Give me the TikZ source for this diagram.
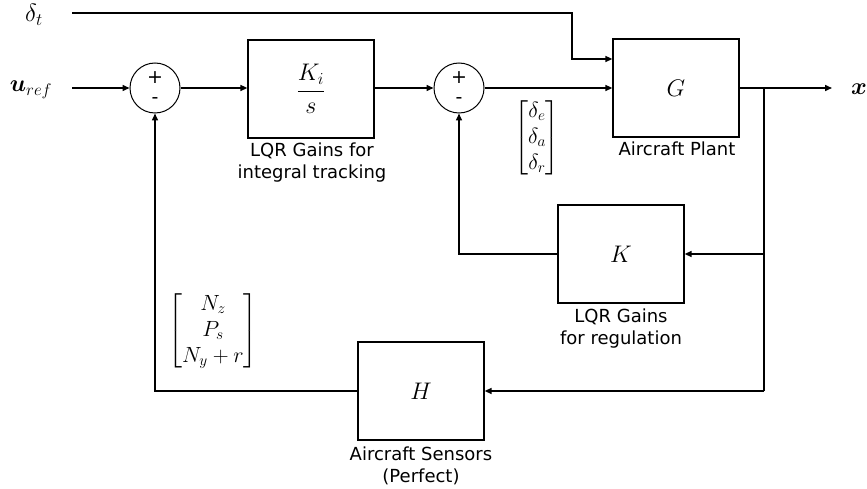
\RequirePackage{fix-cm}
\documentclass[tikz,border=0pt]{standalone}
\usepackage{amsmath}
\usepackage{fontspec}
\setsansfont{DejaVu Sans}
\usetikzlibrary{arrows.meta}
\begin{document}
\begin{tikzpicture}[x=1pt,y=-1pt,
  blk/.style={draw,line width=1.3pt,minimum width=126pt,minimum height=98pt,inner sep=0pt,font=\fontsize{24}{28}\selectfont},
  sumc/.style={draw,line width=1pt,circle,minimum size=50pt,inner sep=0pt},
  lbl/.style={font=\sffamily\fontsize{18}{22}\selectfont,align=center,inner sep=0pt},
  sgn/.style={font=\sffamily\fontsize{19}{22}\selectfont,inner sep=0pt},
  wire/.style={line width=1.5pt},
  arr/.style={wire,-{Triangle[length=7pt,width=6pt]}},
  mathl/.style={inner sep=0pt,font=\fontsize{22}{26}\selectfont}]
\useasboundingbox (0,0) rectangle (867,489);
% blocks
\node[blk] (Ki) at (311,89) {$\dfrac{K_i}{s}$};
\node[blk] (G) at (676,88) {$G$};
\node[blk] (K) at (621,254) {$K$};
\node[blk] (H) at (421,391) {$H$};
\node[sumc] (s1) at (155,88) {};
\node[sumc] (s2) at (459,88) {};
\node[sgn] (p1) at (155,78) {+};
\node[sgn] (m1) at (155,101) {-};
\node[sgn] (p2) at (459,78) {+};
\node[sgn] (m2) at (459,101) {-};
% labels
\node[lbl] (lKi) at (312,163) {LQR Gains for\\integral tracking};
\node[lbl] (lG) at (677,149) {Aircraft Plant};
\node[lbl] (lK) at (621,329) {LQR Gains\\for regulation};
\node[lbl] (lH) at (421,466) {Aircraft Sensors\\(Perfect)};
\node[mathl,font=\fontsize{25}{28}\selectfont] (dt) at (34,15) {$\delta_t$};
\node[mathl,font=\fontsize{24}{28}\selectfont] (uref) at (31,90) {$\boldsymbol{u}_{ref}$};
\node[mathl,font=\fontsize{24}{28}\selectfont] (xo) at (859,89) {$\boldsymbol{x}$};
\node[mathl] (dm) at (537,138) {$\begin{bmatrix}\delta_e\\ \delta_a\\ \delta_r\end{bmatrix}$};
\node[mathl] (nm) at (213,331) {$\begin{bmatrix}N_z\\ P_s\\ N_y+r\end{bmatrix}$};
% coordinates
\coordinate (dts) at (72,13);
\coordinate (us) at (72,88);
\coordinate (xe) at (832,88);
\coordinate (br) at (764,88);
\coordinate (brK) at (764,254);
\coordinate (brH) at (764,391);
% wires
\draw[arr] (dts) -- (572,13) -- (572,59) -- (G.west |- 0,59);
\draw[arr] (us) -- (s1.west);
\draw[arr] (s1.east) -- (Ki.west |- s1.east);
\draw[arr] (Ki.east |- s2.west) -- (s2.west);
\draw[arr] (s2.east) -- (G.west);
\draw[arr] (G.east) -- (xe);
\draw[wire] (br) -- (brH);
\draw[arr] (brK) -- (K.east);
\draw[arr] (brH) -- (H.east);
\draw[arr] (K.west) -| (s2.south);
\draw[arr] (H.west) -| (s1.south);
\end{tikzpicture}
\end{document}
